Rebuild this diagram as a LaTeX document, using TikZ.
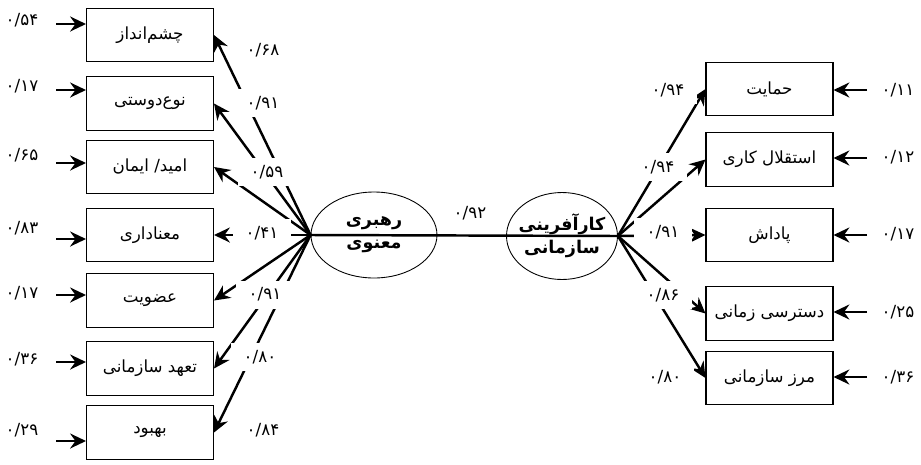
\documentclass[tikz,border=0pt]{standalone}
\usepackage{fontspec}
\usepackage{tikz}
\usetikzlibrary{arrows.meta}
\usetikzlibrary{shapes.geometric}
\newfontfamily\farsi[Script=Arabic]{DejaVu Sans}
\TeXXeTstate=1

\begin{document}
\begin{tikzpicture}[x=0.02cm, y=-0.02cm,
	line/.style={>={Stealth[length=9pt,width=8.5pt,inset=3pt]}, line width=1.4pt},
	box/.style={draw, line width=0.6pt, minimum width=2.54cm, minimum height=1.07cm, inner xsep=2pt, font=\farsi\fontsize{9.5}{12}\selectfont},
	latent/.style={draw, ellipse, line width=0.5pt, align=center, inner sep=-5mm, font=\farsi\bfseries\fontsize{10}{13}\selectfont},
	coef/.style={fill=white, minimum width=1.15cm, minimum height=0.56cm, inner sep=0pt, font=\farsi\fontsize{9.5}{11}\selectfont},
	err/.style={font=\farsi\fontsize{9.5}{11}\selectfont}]
	\useasboundingbox (0, 0) rectangle (921, 464);
	% latent variables
	\node[latent, minimum width=2.52cm, minimum height=1.72cm] (SL) at (374, 235) {\beginR رهبری\endR\\ \beginR معنوی\endR};
	\node[latent, minimum width=2.22cm, minimum height=1.74cm] (OE) at (562, 236) {\beginR کارآفرینی\endR\\ \beginR سازمانی\endR};
	% left indicators
	\node[box] (L1) at (150, 35) {\beginR چشم‌انداز\endR};
	\node[box] (L2) at (150, 103.5) {\beginR نوع‌دوستی\endR};
	\node[box] (L3) at (150, 167) {\beginR امید/ ایمان\endR};
	\node[box] (L4) at (150, 235) {\beginR معناداری\endR};
	\node[box] (L5) at (150, 300.5) {\beginR عضویت\endR};
	\node[box] (L6) at (150, 368.5) {\beginR تعهد سازمانی\endR};
	\node[box] (L7) at (150, 432.5) {\beginR بهبود\endR};
	% right indicators
	\node[box] (R1) at (769.5, 89) {\beginR حمایت\endR};
	\node[box] (R2) at (769.5, 159.5) {\beginR استقلال کاری\endR};
	\node[box] (R3) at (769.5, 235) {\beginR پاداش\endR};
	\node[box] (R4) at (769.5, 313.5) {\beginR دسترسی زمانی\endR};
	\node[box] (R5) at (769.5, 378) {\beginR مرز سازمانی\endR};
	% error terms
	\node[err] (EL1) at (22, 20) {۰/۵۴};
	\node[err] (EL2) at (22, 86) {۰/۱۷};
	\node[err] (EL3) at (22, 155) {۰/۶۵};
	\node[err] (EL4) at (22, 228) {۰/۸۳};
	\node[err] (EL5) at (22, 293) {۰/۱۷};
	\node[err] (EL6) at (22, 359) {۰/۳۶};
	\node[err] (EL7) at (22, 430) {۰/۲۹};
	\node[err] (ER1) at (898, 90) {۰/۱۱};
	\node[err] (ER2) at (898, 157) {۰/۱۲};
	\node[err] (ER3) at (898, 234) {۰/۱۷};
	\node[err] (ER4) at (898, 312) {۰/۲۵};
	\node[err] (ER5) at (898, 377) {۰/۳۶};
	\coordinate (el1) at (56, 24);
	\coordinate (el2) at (56, 90);
	\coordinate (el3) at (56, 163);
	\coordinate (el4) at (56, 239);
	\coordinate (el5) at (56, 295);
	\coordinate (el6) at (56, 362);
	\coordinate (el7) at (56, 441);
	\coordinate (er1) at (867, 90);
	\coordinate (er2) at (867, 158);
	\coordinate (er3) at (867, 235);
	\coordinate (er4) at (867, 312);
	\coordinate (er5) at (867, 377);
	\draw[->, line] (el1) -- (el1 -| L1.west);
	\draw[->, line] (el2) -- (el2 -| L2.west);
	\draw[->, line] (el3) -- (el3 -| L3.west);
	\draw[->, line] (el4) -- (el4 -| L4.west);
	\draw[->, line] (el5) -- (el5 -| L5.west);
	\draw[->, line] (el6) -- (el6 -| L6.west);
	\draw[->, line] (el7) -- (el7 -| L7.west);
	\draw[->, line] (er1) -- (er1 -| R1.east);
	\draw[->, line] (er2) -- (er2 -| R2.east);
	\draw[->, line] (er3) -- (er3 -| R3.east);
	\draw[->, line] (er4) -- (er4 -| R4.east);
	\draw[->, line] (er5) -- (er5 -| R5.east);
	% loadings
	\draw[->, line] (SL.west) -- (L1.east);
	\draw[->, line] (SL.west) -- (L2.east);
	\draw[->, line] (SL.west) -- (L3.east);
	\draw[->, line] (SL.west) -- (L4.east);
	\draw[->, line] (SL.west) -- (L5.east);
	\draw[->, line] (SL.west) -- (L6.east);
	\draw[->, line] (SL.west) -- (L7.east);
	\draw[->, line] (OE.east) -- (R1.west);
	\draw[->, line] (OE.east) -- (R2.west);
	\draw[->, line] (OE.east) -- (R3.west);
	\draw[->, line] (OE.east) -- (R4.west);
	\draw[->, line] (OE.east) -- (R5.west);
	\draw[-, line] (SL.west) -- (OE.east);
	% coefficients
	\node[coef] (CL1) at (263, 50) {۰/۶۸};
	\node[coef] (CL2) at (263, 103) {۰/۹۱};
	\node[coef] (CL3) at (267, 172) {۰/۵۹};
	\node[coef] (CL4) at (262, 233) {۰/۴۱};
	\node[coef] (CL5) at (265, 294.5) {۰/۹۱};
	\node[coef] (CL6) at (260, 357) {۰/۸۰};
	\node[coef] (CL7) at (263, 430) {۰/۸۴};
	\node[coef] (CR1) at (668, 90) {۰/۹۴};
	\node[coef] (CR2) at (658, 167) {۰/۹۴};
	\node[coef] (CR3) at (663, 232) {۰/۹۱};
	\node[coef] (CR4) at (663, 295) {۰/۸۶};
	\node[coef] (CR5) at (665, 377) {۰/۸۰};
	\node[coef] (CM) at (470, 213) {۰/۹۲};
\end{tikzpicture}
\end{document}
